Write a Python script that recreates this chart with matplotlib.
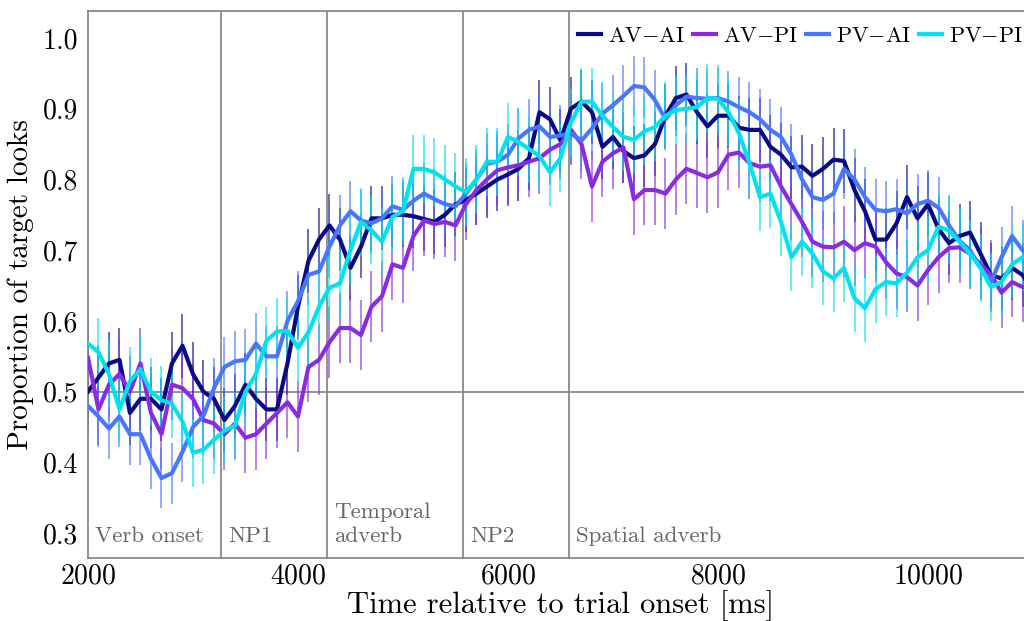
import matplotlib
matplotlib.use("Agg")
import matplotlib.pyplot as plt
import matplotlib.transforms as mtransforms
import numpy as np

plt.rcParams['font.family'] = ['cmr10', 'DejaVu Serif']
plt.rcParams['mathtext.fontset'] = 'cm'
plt.rcParams['axes.formatter.use_mathtext'] = True

# time axis, 100 ms bins
time_ms = np.arange(2000, 11001, 100)

av_ai = [0.50, 0.52, 0.54, 0.545, 0.47, 0.49, 0.49, 0.475, 0.54, 0.565,
         0.525, 0.50, 0.49, 0.46, 0.48, 0.51, 0.49, 0.475, 0.475, 0.54,
         0.62, 0.685, 0.715, 0.735, 0.715, 0.675, 0.705, 0.745, 0.745, 0.75,
         0.75, 0.748, 0.744, 0.74, 0.75, 0.765, 0.771, 0.78, 0.79, 0.80,
         0.807, 0.815, 0.83, 0.895, 0.885, 0.855, 0.90, 0.91, 0.895, 0.846,
         0.86, 0.84, 0.83, 0.834, 0.85, 0.89, 0.915, 0.92, 0.895, 0.875,
         0.89, 0.89, 0.873, 0.87, 0.87, 0.846, 0.835, 0.817, 0.818, 0.805,
         0.815, 0.828, 0.826, 0.785, 0.755, 0.715, 0.715, 0.738, 0.775, 0.745,
         0.765, 0.73, 0.71, 0.72, 0.725, 0.695, 0.665, 0.66, 0.675, 0.665,
         0.64]

av_pi = [0.548, 0.475, 0.51, 0.525, 0.50, 0.54, 0.47, 0.44, 0.51, 0.505,
         0.49, 0.46, 0.455, 0.44, 0.455, 0.435, 0.44, 0.455, 0.47, 0.485,
         0.465, 0.535, 0.545, 0.57, 0.59, 0.59, 0.58, 0.62, 0.635, 0.68,
         0.675, 0.72, 0.742, 0.737, 0.74, 0.735, 0.765, 0.785, 0.80, 0.813,
         0.817, 0.82, 0.825, 0.83, 0.842, 0.85, 0.87, 0.85, 0.79, 0.825,
         0.837, 0.845, 0.772, 0.785, 0.785, 0.78, 0.80, 0.815, 0.809, 0.803,
         0.81, 0.835, 0.838, 0.823, 0.818, 0.82, 0.79, 0.765, 0.74, 0.712,
         0.705, 0.704, 0.712, 0.70, 0.71, 0.705, 0.683, 0.667, 0.662, 0.65,
         0.672, 0.69, 0.703, 0.704, 0.695, 0.68, 0.665, 0.64, 0.655, 0.648,
         0.645]

pv_ai = [0.48, 0.465, 0.448, 0.465, 0.44, 0.44, 0.405, 0.378, 0.385, 0.415,
         0.45, 0.466, 0.505, 0.535, 0.543, 0.545, 0.568, 0.55, 0.55, 0.60,
         0.628, 0.665, 0.67, 0.705, 0.735, 0.755, 0.742, 0.738, 0.745, 0.762,
         0.757, 0.77, 0.78, 0.772, 0.765, 0.762, 0.78, 0.80, 0.822, 0.825,
         0.835, 0.858, 0.87, 0.875, 0.86, 0.862, 0.865, 0.855, 0.872, 0.893,
         0.905, 0.918, 0.932, 0.93, 0.912, 0.885, 0.905, 0.917, 0.915, 0.914,
         0.915, 0.91, 0.902, 0.895, 0.885, 0.87, 0.86, 0.835, 0.80, 0.775,
         0.771, 0.78, 0.815, 0.80, 0.775, 0.757, 0.755, 0.758, 0.752, 0.765,
         0.77, 0.76, 0.735, 0.713, 0.70, 0.675, 0.655, 0.69, 0.72, 0.70,
         0.70]

pv_pi = [0.568, 0.556, 0.525, 0.475, 0.515, 0.532, 0.50, 0.488, 0.483, 0.458,
         0.414, 0.418, 0.432, 0.445, 0.452, 0.50, 0.525, 0.572, 0.585, 0.586,
         0.562, 0.584, 0.62, 0.647, 0.653, 0.70, 0.74, 0.728, 0.712, 0.747,
         0.755, 0.815, 0.815, 0.81, 0.80, 0.79, 0.782, 0.80, 0.825, 0.825,
         0.86, 0.853, 0.843, 0.833, 0.81, 0.83, 0.88, 0.91, 0.91, 0.89,
         0.874, 0.86, 0.856, 0.868, 0.874, 0.89, 0.898, 0.90, 0.902, 0.915,
         0.914, 0.895, 0.865, 0.823, 0.775, 0.78, 0.74, 0.69, 0.712, 0.695,
         0.67, 0.66, 0.675, 0.632, 0.618, 0.645, 0.655, 0.653, 0.668, 0.69,
         0.70, 0.733, 0.728, 0.712, 0.695, 0.675, 0.648, 0.655, 0.68, 0.69,
         0.69]

# standard errors (approx. half-length of the bars)
se_av_ai = 0.045
se_av_pi = 0.05
se_pv_ai = 0.043
se_pv_pi = 0.048

conditions = ['AV$-$AI', 'AV$-$PI', 'PV$-$AI', 'PV$-$PI']
colors = ['#0a0a85', '#8a2be2', '#4876ff', '#00e2ee']

# region boundaries [ms] and labels
boundaries = [3267, 4276, 5571, 6581]
region_starts = [2000, 3267, 4276, 5571, 6581]
region_labels = ['Verb onset', 'NP1', 'Temporal\nadverb', 'NP2', 'Spatial adverb']

fig = plt.figure(figsize=(10.24, 6.21), dpi=100)
ax = fig.add_axes([0.0859, 0.1014, 0.9229, 0.8809])

series = [av_ai, av_pi, pv_ai, pv_pi]
ses = [se_av_ai, se_av_pi, se_pv_ai, se_pv_pi]

for vals, se, col in zip(series, ses, colors):
    ax.errorbar(time_ms, vals, yerr=se, fmt='none', ecolor=col,
                elinewidth=1.3, alpha=0.65, capsize=0, zorder=2)
for vals, lab, col in zip(series, conditions, colors):
    ax.plot(time_ms, vals, color=col, lw=3.0, label=lab, zorder=3)

grey = '#808080'
for b in boundaries:
    ax.axvline(b, color=grey, lw=1.2, zorder=1)
ax.axhline(0.5, color=grey, lw=1.2, zorder=1)

trans = mtransforms.blended_transform_factory(ax.transData, ax.transAxes)
offset = mtransforms.ScaledTranslation(5 / 72, 0, fig.dpi_scale_trans)
for start, lab in zip(region_starts, region_labels):
    ax.text(start, 0.029, lab, transform=trans + offset, fontsize=16.5,
            color='#666666', va='baseline', ha='left', linespacing=1.3)

ax.set_xlim(2000, 11000)
ax.set_ylim(0.265, 1.038)
ax.set_xticks([2000, 4000, 6000, 8000, 10000])
ax.set_yticks([0.3, 0.4, 0.5, 0.6, 0.7, 0.8, 0.9, 1.0])
ax.set_yticklabels(['0.3', '0.4', '0.5', '0.6', '0.7', '0.8', '0.9', '1.0'])
ax.tick_params(length=0, labelsize=20)
ax.tick_params(axis='x', pad=4)
ax.tick_params(axis='y', pad=7)

for side in ['left', 'top', 'bottom']:
    ax.spines[side].set_color(grey)
    ax.spines[side].set_linewidth(1.2)
ax.spines['right'].set_visible(False)

ax.set_xlabel('Time relative to trial onset [ms]', fontsize=22, labelpad=0)
ax.set_ylabel('Proportion of target looks', fontsize=21, labelpad=6)

ax.legend(loc='upper left', bbox_to_anchor=(0.502, 1.0), ncol=4, frameon=False,
          fontsize=16, handlelength=1.05, handletextpad=0.3, columnspacing=0.35,
          borderaxespad=0.3)

fig.savefig('out.png', dpi=100)
